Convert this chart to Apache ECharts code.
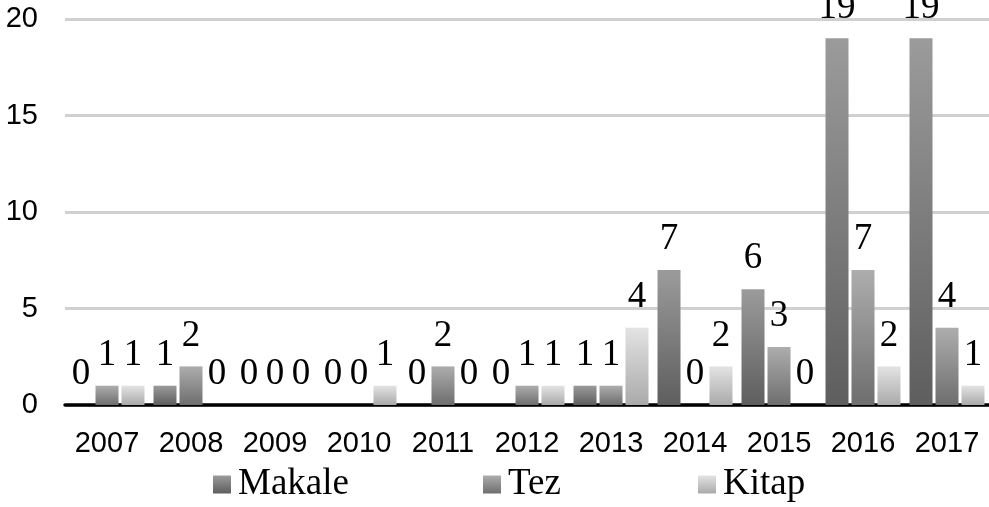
<!DOCTYPE html>
<html>
<head>
<meta charset="utf-8">
<script src="https://cdn.jsdelivr.net/npm/echarts@6/dist/echarts.min.js"></script>
<style>
  html, body { margin: 0; padding: 0; background: #fff; }
  #chart { width: 989px; height: 507px; }
</style>
</head>
<body>
<div id="chart"></div>
<script>
const years = ['2007', '2008', '2009', '2010', '2011', '2012', '2013', '2014', '2015', '2016', '2017']
const makale = [0, 1, 0, 0, 0, 0, 1, 7, 6, 19, 19]
const tez = [1, 2, 0, 0, 2, 1, 1, 0, 3, 7, 4]
const kitap = [1, 0, 0, 1, 0, 1, 4, 2, 0, 2, 1]
const yTicks = [0, 5, 10, 15, 20]

const serif = '"Liberation Serif", "Times New Roman", serif'
const sans = '"Liberation Sans", Arial, sans-serif'

// dikey gri gradyan
const grad = (top, bottom) => new echarts.graphic.LinearGradient(0, 0, 0, 1, [
  { offset: 0, color: top },
  { offset: 1, color: bottom },
])

const mkSeries = (name, data, color) => ({
  name,
  type: 'bar',
  data,
  barWidth: 23,
  barGap: '13%',
  itemStyle: { color },
  label: {
    show: true,
    position: 'top',
    distance: 12,
    color: '#000',
    fontFamily: serif,
    fontSize: 37,
  },
})

const mkLegend = (name, left) => ({
  data: [name],
  left,
  top: 466,
  padding: 0,
  itemWidth: 18,
  itemHeight: 18,
  icon: 'rect',
  selectedMode: false,
  textStyle: { fontFamily: serif, fontSize: 37, color: '#000', padding: [6, 0, 0, 2] },
})

const chart = echarts.init(document.getElementById('chart'))
chart.setOption({
  animation: false,
  grid: { left: 65, top: 19, width: 926, bottom: 102 },
  legend: [mkLegend('Makale', 213), mkLegend('Tez', 483), mkLegend('Kitap', 698)],
  xAxis: {
    type: 'category',
    data: years,
    axisLine: { lineStyle: { color: '#000', width: 3.5 } },
    axisTick: { show: false },
    axisLabel: { fontFamily: sans, fontSize: 29, color: '#000', margin: 24 },
  },
  yAxis: {
    type: 'value',
    min: yTicks[0],
    max: yTicks[yTicks.length - 1],
    interval: 5,
    axisLine: { show: false },
    axisTick: { show: false },
    axisLabel: { fontFamily: sans, fontSize: 29, color: '#000', margin: 27 },
    splitLine: { lineStyle: { color: '#d0d0d0', width: 3 } },
  },
  series: [
    mkSeries('Makale', makale, grad('#9b9b9b', '#5e5e5e')),
    mkSeries('Tez', tez, grad('#adadad', '#6e6e6e')),
    mkSeries('Kitap', kitap, grad('#e3e3e3', '#aaaaaa')),
  ],
})
</script>
</body>
</html>
